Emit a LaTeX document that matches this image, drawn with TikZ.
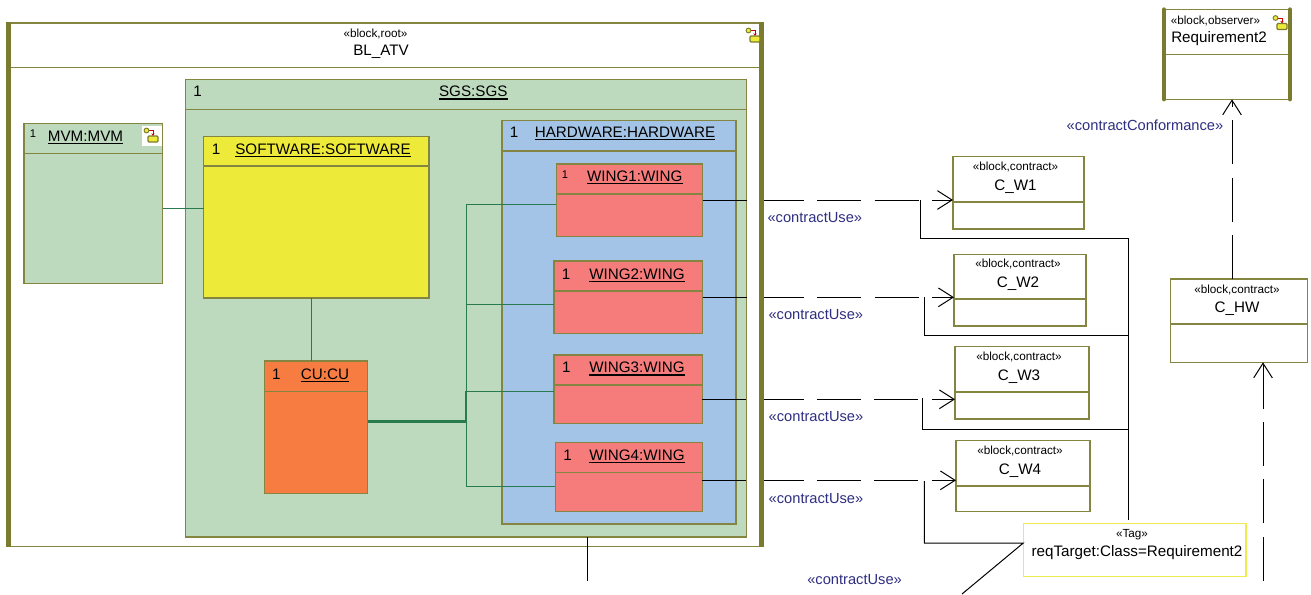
\documentclass[tikz,border=0pt]{standalone}
\usepackage{fontspec}
\setmainfont{Liberation Sans}
\usetikzlibrary{arrows.meta}
\definecolor{sysolive}{HTML}{7B7B30}
\definecolor{lineolive}{HTML}{858542}
\definecolor{sgsgreen}{HTML}{BDD9BE}
\definecolor{swyellow}{HTML}{EEEA39}
\definecolor{hwblue}{HTML}{A3C4E6}
\definecolor{wingred}{HTML}{F67C7C}
\definecolor{cuorange}{HTML}{F67C42}
\definecolor{linkgreen}{HTML}{2A7A50}
\definecolor{usenavy}{HTML}{2E2E82}
\definecolor{tagyellow}{HTML}{EEEA50}
\newcommand{\ultext}[1]{\leavevmode\vtop{\hbox{#1}\kern1.1pt\hrule height .95pt}}
\newcommand{\blockbox}[7]{%
 \node[boxshape, fill=#7, minimum width={(#4-#2)*.75pt}, minimum height={(#5-#3)*.75pt}] (#1) at (#2,#3) {};
 \draw[seprule] (#1.west |- 0,#6) -- (#1.east |- 0,#6);
}
\tikzset{
 boxshape/.style={draw=lineolive, line width=.85pt, anchor=north west, inner sep=0pt, outer sep=0pt},
 seprule/.style={draw=lineolive, line width=.85pt},
 sideedge/.style={draw=sysolive, line width=3.8pt},
 titletext/.style={anchor=base, inner sep=0pt, font=\fontsize{11.4}{13}\selectfont},
 stereotext/.style={anchor=base, inner sep=0pt, font=\fontsize{8.8}{10}\selectfont},
 smalltext/.style={anchor=base, inner sep=0pt, font=\fontsize{8.4}{10}\selectfont},
 usetext/.style={anchor=base, inner sep=0pt, text=usenavy, font=\fontsize{11}{13}\selectfont},
 portlink/.style={draw=linkgreen, line width=.75pt},
 uselink/.style={->, draw=black, line width=.75pt, dash pattern=on 33pt off 10pt},
 taglink/.style={draw=black, line width=.75pt},
 hiericon/.pic={
  \draw[red!80!black, line width=.6pt, -{Stealth[length=2pt,width=2.5pt]}] (4.5,4.5) -- (11,4.5) -- (11,10);
  \draw[draw=sysolive, fill=swyellow, line width=.7pt] (4.5,4.5) circle (2.4);
  \draw[draw=sysolive, fill=swyellow, line width=.9pt, rounded corners=.8pt] (6,10) rectangle (16,16);
 }
}
\begin{document}
\begin{tikzpicture}[x=.75pt, y=-.75pt, >={Straight Barb[length=11pt,width=14pt]}]
 \useasboundingbox (0,0) rectangle (1311,594);
 \blockbox{atv}{8.5}{23}{761.5}{546.5}{67.7}{white}
 \node[stereotext] (atvtype) at (375.5,37) {«block,root»};
 \node[titletext] (atvname) at (381,55) {BL\_ATV};

 \blockbox{mvm}{24}{123.5}{162.5}{283.5}{153.5}{sgsgreen}
 \node[smalltext] (mvmone) at (33,137) {1};
 \node[titletext] (mvmname) at (85.5,141.7) {\ultext{MVM:MVM}};
 \fill[white] (142,126) rectangle (162,146);
 \pic at (142,126) {hiericon};

 \blockbox{sgs}{185.5}{79.5}{746.7}{537}{109.3}{sgsgreen}
 \node[titletext] (sgsone) at (197.7,96.7) {1};
 \node[titletext] (sgsname) at (473.3,96.7) {\ultext{SGS:SGS}};

 \blockbox{sw}{203.7}{136.5}{429}{298}{166}{swyellow}
 \node[titletext] (swone) at (216,154) {1};
 \node[titletext] (swname) at (323,154) {\ultext{SOFTWARE:SOFTWARE}};

 \blockbox{hw}{502}{120.7}{736}{524}{151}{hwblue}
 \node[titletext] (hwone) at (514,137.7) {1};
 \node[titletext] (hwname) at (625,137.7) {\ultext{HARDWARE:HARDWARE}};

 \blockbox{cu}{264.3}{361}{367.7}{493.3}{391.3}{cuorange}
 \node[titletext] (cuone) at (276.3,379.3) {1};
 \node[titletext] (cuname) at (325,379.3) {\ultext{CU:CU}};

 \foreach \n/\xa/\ya/\xb/\yb/\ys/\xo/\xt/\yt in {2/554/261/702.7/333.3/291/566/637/279,3/554/355/702.3/423.3/385/566.3/637/372.7,4/555.3/442.3/702.3/511.7/472.3/567.7/637/460}
 {
  \blockbox{wing\n}{\xa}{\ya}{\xb}{\yb}{\ys}{wingred}
  \node[titletext] (wing\n one) at (\xo,\yt) {1};
  \node[titletext] (wing\n name) at (\xt,\yt) {\ultext{WING\n:WING}};
 }
 \blockbox{wing1}{556.3}{164}{702.7}{236.7}{194}{wingred}
 \node[smalltext] (wing1one) at (565,178) {1};
 \node[titletext] (wing1name) at (634.8,181) {\ultext{WING1:WING}};

 \foreach \n/\xa/\ya/\xb/\yb/\ys/\xt/\ytype/\yname in {1/953/156.7/1084/229/202/1015.5/170.7/190.7,2/954/254.3/1086/326/299/1018/267.7/287.3,3/955/346.7/1089/419/392/1019/360.7/380,4/956/440.7/1090/511.7/486/1020/454.3/474}
 {
  \blockbox{cw\n}{\xa}{\ya}{\xb}{\yb}{\ys}{white}
  \node[stereotext] (cw\n type) at (\xt,\ytype) {«block,contract»};
  \node[titletext] (cw\n name) at (\xt,\yname) {C\_W\n};
 }

 \blockbox{chw}{1170.7}{279}{1307.7}{362.3}{324}{white}
 \node[stereotext] (chwtype) at (1237,293.3) {«block,contract»};
 \node[titletext] (chwname) at (1237,312) {C\_HW};

 \blockbox{req}{1164}{9.5}{1290}{99.3}{54.7}{white}
 \node[stereotext] (reqtype) at (1215.5,24) {«block,observer»};
 \node[titletext] (reqname) at (1219,42.3) {Requirement2};
 \pic at (1271,13.5) {hiericon};

 \node[draw=tagyellow, line width=.9pt, anchor=north west, inner sep=0pt, outer sep=0pt, minimum width={222.7*.75pt}, minimum height={53.4*.75pt}] (tag) at (1023.3,523.3) {};
 \node[stereotext] (tagtype) at (1132,537.7) {«Tag»};
 \node[titletext] (tagname) at (1137,556.7) {reqTarget:Class=Requirement2};

 % links between parts
 \draw[portlink] (mvm.east |- 0,208) -- (sw.west |- 0,208);
 \draw[portlink] (sw.south -| 311.7,0) -- (cu.north -| 311.7,0);
 \draw[portlink, line width=1.6pt] (cu.east |- 0,421.5) -- (465.7,421.5);
 \foreach \n/\xm/\y in {1/466/204.3,2/466/304.3,3/465/391.3,4/466/486.3}
 {
  \draw[portlink] (cu.east |- 0,421.5) -| (\xm,\y) -- (wing\n.west |- 0,\y);
 }

 % contract use
 \foreach \n/\y in {1/200,2/297.3,3/399.3,4/480.3}
 {
  \draw[uselink] (wing\n.east |- 0,\y) -- (cw\n.west |- 0,\y);
 }
 \coordinate (trunktop) at (1128,238.3);
 \coordinate (trunkend) at (1128,520);
 \draw[taglink] (trunktop) -- (trunkend);
 \foreach \x/\ya/\yb in {920.3/200/238.3,924/297.3/335,922/398/429.3}
 {
  \draw[taglink] (\x,\ya) |- (trunktop |- 0,\yb);
 }
 \coordinate (tagfoot) at (962,594);
 \draw[taglink] (924.4,481) |- (tag.west |- 0,543) -- (tagfoot);
 \coordinate (sgsfoot) at (587.3,580.7);
 \draw[taglink] (sgs.south -| sgsfoot) -- (sgsfoot);

 % conformance
 \draw[uselink] (chw.north -| 1232,0) -- (req.south -| 1232,0);
 \coordinate (hwfoot) at (1263,580.7);
 \draw[uselink] (hwfoot) -- (chw.south -| hwfoot);

 \draw[sideedge] (8.5,22) -- (8.5,547);
 \draw[sideedge] (761.5,22) -- (761.5,547);
 \pic at (744,26) {hiericon};
 \draw[sideedge, line width=3.2pt, line cap=round] (req.north west) -- (req.south west);
 \draw[sideedge, line width=3.2pt, line cap=round] (req.north east) -- (req.south east);

 \node[usetext] (useone) at (814.8,222) {«contractUse»};
 \node[usetext] (usetwo) at (815.8,319) {«contractUse»};
 \node[usetext] (usethree) at (816,421) {«contractUse»};
 \node[usetext] (usefour) at (816,503) {«contractUse»};
 \node[usetext] (usefive) at (854.6,584) {«contractUse»};
 \node[usetext] (conform) at (1145,130.5) {«contractConformance»};
\end{tikzpicture}
\end{document}
